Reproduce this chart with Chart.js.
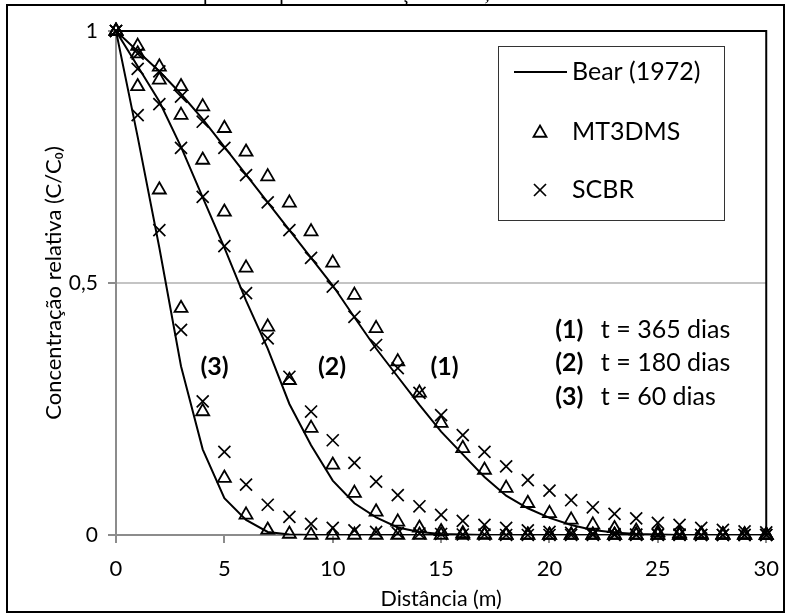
<!DOCTYPE html>
<html>
<head>
<meta charset="utf-8">
<script src="https://cdn.jsdelivr.net/npm/chart.js@4.4.1/dist/chart.umd.min.js"></script>
<style>
body { margin: 0; background: #fff; overflow: hidden; }
#wrap { position: relative; width: 792px; height: 615px; }
#chart { position: absolute; left: 0; top: 0; }
#frame { position: absolute; left: 6px; top: 4px; width: 779px; height: 609px; box-sizing: border-box; border: 2px solid #000; pointer-events: none; }
#cap { position: absolute; left: 141px; top: -18px; font: 22px/22px "Liberation Serif", serif; white-space: nowrap; }
</style>
</head>
<body>
<div id="wrap">
  <canvas id="chart" width="792" height="615"></canvas>
  <div id="frame"></div>
  <div id="cap">SCBR para tempos de simulação de 60, 180 e 365 dias</div>
</div>
<script>
// distance (m) and relative concentration
const distances = [0,1,2,3,4,5,6,7,8,9,10,11,12,13,14,15,16,17,18,19,20,21,22,23,24,25,26,27,28,29,30];

const bear365 = [1,0.96,0.92,0.875,0.825,0.77,0.715,0.66,0.605,0.55,0.495,0.432,0.37,0.314,0.258,0.205,0.16,0.115,0.078,0.053,0.034,0.02,0.01,0.005,0.002,0.001,0,0,0,0,0];
const bear180 = [1,0.93,0.86,0.77,0.67,0.57,0.465,0.37,0.26,0.178,0.108,0.063,0.035,0.015,0.006,0.002,0.001,0,0,0,0,0,0,0,0,0,0,0,0,0,0];
const bear60  = [1,0.79,0.57,0.335,0.17,0.073,0.03,0.006,0.001,0,0,0,0,0,0,0,0,0,0,0,0,0,0,0,0,0,0,0,0,0,0];

const mt365 = [1,0.97,0.929,0.89,0.85,0.807,0.76,0.711,0.659,0.602,0.54,0.476,0.41,0.344,0.282,0.222,0.172,0.129,0.093,0.063,0.043,0.03,0.02,0.013,0.008,0.005,0.003,0.002,0.001,0.001,0];
const mt180 = [1,0.955,0.903,0.833,0.744,0.641,0.53,0.413,0.307,0.212,0.139,0.083,0.046,0.026,0.014,0.007,0.003,0.001,0,0,0,0,0,0,0,0,0,0,0,0,0];
const mt60  = [1,0.89,0.685,0.45,0.245,0.113,0.04,0.01,0.002,0,0,0,0,0,0,0,0,0,0,0,0,0,0,0,0,0,0,0,0,0,0];

const scbr365 = [1,0.955,0.92,0.87,0.82,0.768,0.714,0.66,0.605,0.55,0.493,0.433,0.377,0.331,0.282,0.238,0.198,0.165,0.136,0.109,0.088,0.069,0.055,0.042,0.033,0.024,0.02,0.014,0.01,0.007,0.005];
const scbr180 = [1,0.925,0.855,0.768,0.671,0.573,0.48,0.39,0.314,0.245,0.188,0.143,0.106,0.079,0.057,0.04,0.028,0.02,0.014,0.009,0.006,0.004,0.003,0.002,0.001,0.001,0.001,0,0,0,0];
const scbr60  = [1,0.833,0.605,0.407,0.265,0.165,0.1,0.06,0.036,0.022,0.014,0.009,0.006,0.004,0.003,0.002,0.001,0.001,0,0,0,0,0,0,0,0,0,0,0,0,0];

const legendNames = ["Bear (1972)", "MT3DMS", "SCBR"];
const curveTags = [["(3)", 4.55, 0.333], ["(2)", 9.97, 0.333], ["(1)", 15.16, 0.333]];
const timeTags = [["(1)", "t = 365 dias", 0.407], ["(2)", "t = 180 dias", 0.341], ["(3)", "t = 60 dias", 0.274]];

const FONT = "Lato, 'Open Sans', sans-serif";

function pts(arr) {
  return distances.map((x, i) => ({ x, y: arr[i] }));
}

function lineSet(arr) {
  return { data: pts(arr), showLine: true, borderColor: "#000", borderWidth: 2, pointRadius: 0, tension: 0 };
}
function triSet(arr) {
  return { data: pts(arr), showLine: false, pointStyle: "triangle", pointRadius: 7.5, borderColor: "#000", backgroundColor: "rgba(0,0,0,0)", pointBorderWidth: 1.8, clip: false };
}
function crossSet(arr) {
  return { data: pts(arr), showLine: false, pointStyle: "crossRot", pointRadius: 8.5, borderColor: "#000", pointBorderWidth: 1.7, clip: false };
}

function drawTri(ctx, x, y, r) {
  ctx.beginPath();
  for (let k = 0; k < 3; k++) {
    const a = -Math.PI / 2 + k * 2 * Math.PI / 3;
    const px = x + Math.cos(a) * r, py = y + Math.sin(a) * r;
    k === 0 ? ctx.moveTo(px, py) : ctx.lineTo(px, py);
  }
  ctx.closePath();
  ctx.stroke();
}
function drawX(ctx, x, y, r) {
  const d = r * Math.SQRT1_2;
  ctx.beginPath();
  ctx.moveTo(x - d, y - d); ctx.lineTo(x + d, y + d);
  ctx.moveTo(x + d, y - d); ctx.lineTo(x - d, y + d);
  ctx.stroke();
}

const extras = {
  id: "extras",
  beforeDatasetsDraw(chart) {
    const { ctx, chartArea: a } = chart;
    ctx.save();
    ctx.strokeStyle = "#000";
    ctx.lineWidth = 2;
    ctx.beginPath();
    ctx.moveTo(a.left, a.top);
    ctx.lineTo(a.right, a.top);
    ctx.lineTo(a.right, a.bottom);
    ctx.stroke();
    ctx.restore();
  },
  afterDatasetsDraw(chart) {
    const { ctx, chartArea: a } = chart;
    const xs = chart.scales.x, ys = chart.scales.y;
    ctx.save();
    ctx.fillStyle = "#000";
    ctx.textBaseline = "middle";

    // curve labels
    ctx.font = "bold 25px " + FONT;
    ctx.textAlign = "center";
    curveTags.forEach(([t, x, y]) => ctx.fillText(t, xs.getPixelForValue(x), ys.getPixelForValue(y)));

    // time labels
    ctx.textAlign = "left";
    timeTags.forEach(([n, t, y]) => {
      const py = ys.getPixelForValue(y);
      ctx.font = "bold 25px " + FONT;
      ctx.fillText(n, xs.getPixelForValue(20.26), py);
      ctx.font = "25px " + FONT;
      ctx.fillText(t, xs.getPixelForValue(22.37), py);
    });

    // legend box
    const lx = a.left + 382, ly = a.top + 15;
    ctx.fillStyle = "#fff";
    ctx.fillRect(lx, ly, 226, 174);
    ctx.strokeStyle = "#333";
    ctx.lineWidth = 1;
    ctx.strokeRect(lx + 0.5, ly + 0.5, 226, 174);
    ctx.fillStyle = "#000";
    ctx.strokeStyle = "#000";
    ctx.font = "25px " + FONT;
    const rowY = [ly + 26, ly + 86, ly + 144];
    ctx.lineWidth = 2;
    ctx.beginPath();
    ctx.moveTo(lx + 16, rowY[0]); ctx.lineTo(lx + 69, rowY[0]);
    ctx.stroke();
    ctx.lineWidth = 1.8;
    drawTri(ctx, lx + 42, rowY[1] + 1, 7.5);
    ctx.lineWidth = 1.7;
    drawX(ctx, lx + 42, rowY[2], 8.5);
    legendNames.forEach((t, i) => ctx.fillText(t, lx + 74, rowY[i]));
    ctx.restore();
  }
};

new Chart(document.getElementById("chart"), {
  type: "scatter",
  data: {
    datasets: [
      lineSet(bear365), lineSet(bear180), lineSet(bear60),
      triSet(mt365), triSet(mt180), triSet(mt60),
      crossSet(scbr365), crossSet(scbr180), crossSet(scbr60)
    ]
  },
  options: {
    responsive: false,
    animation: false,
    layout: { padding: { left: 0, top: 31, right: 23, bottom: 0 } },
    plugins: { legend: { display: false }, tooltip: { enabled: false } },
    scales: {
      x: {
        type: "linear", min: 0, max: 30,
        afterFit: s => { s.height = 80; },
        ticks: { stepSize: 5, padding: 13, color: "#000", font: { family: FONT, size: 22 } },
        grid: { drawOnChartArea: false, tickLength: 8, tickColor: "#8c8c8c", lineWidth: 2 },
        border: { color: "#8c8c8c", width: 2 },
        title: { display: true, text: "Distância (m)", color: "#000", font: { family: FONT, size: 21.5 }, padding: { top: 0, bottom: 3 } }
      },
      y: {
        type: "linear", min: 0, max: 1,
        afterFit: s => { s.width = 116; },
        ticks: { stepSize: 0.5, padding: 10, color: "#000", font: { family: FONT, size: 21 },
          callback: v => String(v).replace(".", ",") },
        grid: { color: "#c4c4c4", lineWidth: 2, tickLength: 8, tickColor: "#8c8c8c" },
        border: { color: "#8c8c8c", width: 2 },
        title: { display: true, text: "Concentração relativa (C/C₀)", color: "#000", font: { family: FONT, size: 22 }, padding: { top: 41, bottom: 0 } }
      }
    }
  },
  plugins: [extras]
});
</script>
</body>
</html>
